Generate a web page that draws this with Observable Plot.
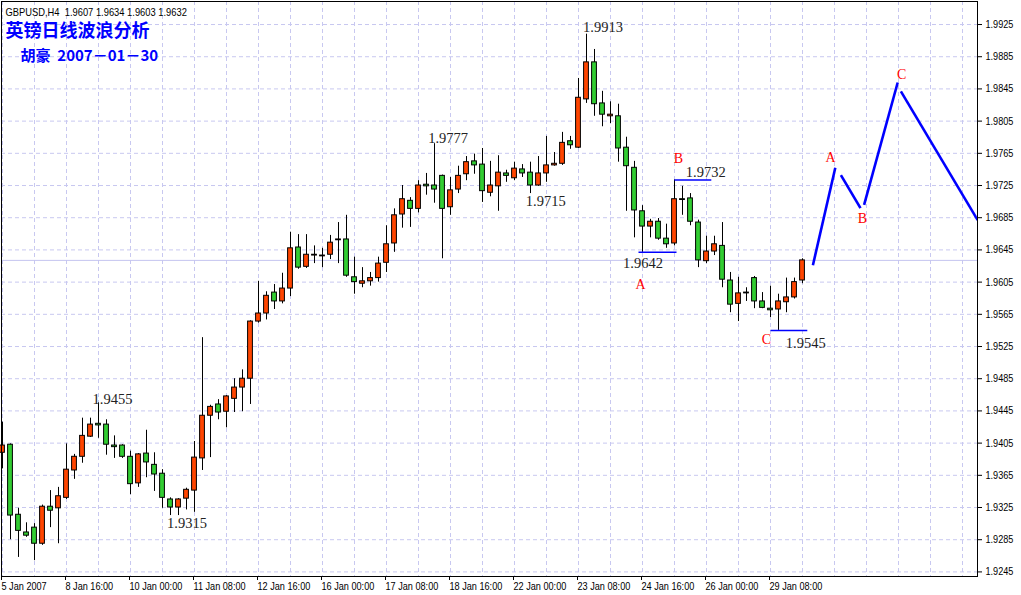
<!DOCTYPE html>
<html><head><meta charset="utf-8">
<script src="https://cdn.jsdelivr.net/npm/d3@7"></script>
<script src="https://cdn.jsdelivr.net/npm/@observablehq/plot@0.6"></script>
<style>
html,body{margin:0;padding:0;background:#fff;}
#chart{position:relative;width:1021px;height:595px;overflow:hidden;}
</style></head><body><div id="chart"></div>
<script>
// H4 bars, GBPUSD (index 0 = 5 Jan 2007 08:00)
const opens = [1.9393,1.9403,1.9316,1.9294,1.9300,1.9280,1.9326,1.9324,1.9337,1.9371,
1.9388,1.9413,1.9429,1.9428,1.9402,1.9402,1.9388,1.9355,1.9392,1.9378,
1.9367,1.9335,1.9325,1.9336,1.9346,1.9386,1.9439,1.9453,1.9444,1.9460,
1.9474,1.9485,1.9556,1.9566,1.9592,1.9581,1.9597,1.9648,1.9624,1.9638,
1.9637,1.9639,1.9657,1.9658,1.9611,1.9603,1.9606,1.9610,1.9629,1.9653,
1.9689,1.9706,1.9696,1.9726,1.9725,1.9737,1.9698,1.9720,1.9739,1.9755,
1.9751,1.9716,1.9724,1.9740,1.9734,1.9745,1.9741,1.9725,1.9740,1.9750,
1.9752,1.9780,1.9772,1.9832,1.9878,1.9827,1.9811,1.9811,1.9772,1.9747,
1.9693,1.9674,1.9680,1.9659,1.9653,1.9708,1.9709,1.9679,1.9631,1.9643,
1.9650,1.9607,1.9578,1.9592,1.9610,1.9581,1.9572,1.9571,1.9580,1.9586,
1.9607];
const highs = [1.9431,1.9404,1.9324,1.9306,1.9305,1.9328,1.9346,1.9350,1.9404,1.9391,
1.9436,1.9436,1.9455,1.9434,1.9414,1.9403,1.9395,1.9392,1.9421,1.9393,
1.9372,1.9337,1.9336,1.9349,1.9407,1.9536,1.9452,1.9459,1.9464,1.9485,
1.9496,1.9557,1.9606,1.9593,1.9602,1.9616,1.9667,1.9664,1.9664,1.9650,
1.9647,1.9663,1.9679,1.9688,1.9636,1.9623,1.9617,1.9636,1.9675,1.9696,
1.9725,1.9710,1.9731,1.9740,1.9777,1.9738,1.9735,1.9749,1.9761,1.9764,
1.9771,1.9755,1.9762,1.9744,1.9754,1.9751,1.9754,1.9761,1.9786,1.9766,
1.9791,1.9786,1.9858,1.9913,1.9894,1.9842,1.9829,1.9826,1.9785,1.9755,
1.9700,1.9683,1.9684,1.9677,1.9732,1.9724,1.9715,1.9682,1.9662,1.9662,
1.9679,1.9617,1.9611,1.9598,1.9612,1.9592,1.9600,1.9590,1.9610,1.9610,
1.9634];
const lows = [1.9373,1.9285,1.9263,1.9288,1.9259,1.9278,1.9300,1.9280,1.9335,1.9360,
1.9380,1.9412,1.9411,1.9390,1.9386,1.9386,1.9341,1.9350,1.9362,1.9345,
1.9324,1.9315,1.9315,1.9322,1.9319,1.9371,1.9387,1.9434,1.9424,1.9443,
1.9444,1.9453,1.9554,1.9558,1.9571,1.9578,1.9587,1.9621,1.9622,1.9628,
1.9623,1.9633,1.9628,1.9611,1.9590,1.9598,1.9600,1.9605,1.9617,1.9642,
1.9672,1.9673,1.9691,1.9713,1.9703,1.9634,1.9688,1.9715,1.9731,1.9739,
1.9704,1.9711,1.9693,1.9729,1.9731,1.9735,1.9715,1.9724,1.9729,1.9749,
1.9750,1.9770,1.9771,1.9827,1.9811,1.9798,1.9802,1.9754,1.9693,1.9660,
1.9642,1.9660,1.9657,1.9647,1.9650,1.9688,1.9675,1.9623,1.9628,1.9638,
1.9598,1.9567,1.9556,1.9581,1.9572,1.9572,1.9561,1.9545,1.9567,1.9584,
1.9603];
const closes = [1.9402,1.9315,1.9296,1.9290,1.9280,1.9326,1.9321,1.9339,1.9372,1.9388,
1.9414,1.9428,1.9427,1.9403,1.9400,1.9388,1.9354,1.9391,1.9381,1.9366,
1.9337,1.9325,1.9335,1.9347,1.9387,1.9439,1.9450,1.9443,1.9463,1.9474,
1.9485,1.9556,1.9566,1.9588,1.9581,1.9597,1.9647,1.9623,1.9639,1.9639,
1.9638,1.9654,1.9658,1.9613,1.9605,1.9606,1.9610,1.9628,1.9652,1.9688,
1.9708,1.9696,1.9725,1.9724,1.9720,1.9696,1.9719,1.9737,1.9754,1.9750,
1.9718,1.9725,1.9741,1.9737,1.9746,1.9740,1.9725,1.9740,1.9750,1.9752,
1.9778,1.9775,1.9834,1.9878,1.9826,1.9813,1.9813,1.9771,1.9749,1.9694,
1.9674,1.9680,1.9659,1.9652,1.9708,1.9707,1.9680,1.9632,1.9643,1.9652,
1.9608,1.9577,1.9591,1.9591,1.9581,1.9573,1.9570,1.9581,1.9586,1.9605,
1.9632];

const timeLabels = ["5 Jan 2007","8 Jan 16:00","10 Jan 00:00","11 Jan 08:00","12 Jan 16:00",
  "16 Jan 00:00","17 Jan 08:00","18 Jan 16:00","22 Jan 00:00","23 Jan 08:00",
  "24 Jan 16:00","26 Jan 00:00","29 Jan 08:00"];
const timeTickBars = [0,8,16,24,32,40,48,56,64,72,80,88,96];
const priceTicks = [1.9245,1.9285,1.9325,1.9365,1.9405,1.9445,1.9485,1.9525,1.9565,
  1.9605,1.9645,1.9685,1.9725,1.9765,1.9805,1.9845,1.9885,1.9925];

// swing-point annotations
const peakValues = [1.9455,1.9315,1.9777,1.9715,1.9913,1.9642,1.9732,1.9545];
const peakLabelBar = [13.75,23.06,55.7,67.9,75.06,80.06,87.9,100.4];
const peakLabelPrice = [1.9459,1.9305,1.9783,1.9705,1.9921,1.9628,1.9741,1.9529];

// wave letters
const waveLetters = ["A","B","C","A","B","C"];
const waveBar = [79.75,84.5,95.5,103.5,107.5,112.4];
const wavePrice = [1.9602,1.9759,1.9534,1.9760,1.9684,1.9863];

// level lines
const levelPrice = [1.9642,1.9732,1.9545];
const levelFrom = [79.5,84,96];
const levelTo = [84.25,88.6,100.6];

// projected wave path (blue)
const projBar1 = [101.3,104.8,107.7,112.3];
const projPrice1 = [1.9626,1.9738,1.9701,1.9842];
const projBar2 = [104.1,107.25,111.9,121.9];
const projPrice2 = [1.9747,1.9697,1.9853,1.9682];

const symbol = "GBPUSD,H4";
const title = "英镑日线波浪分析";
const author = "胡豪  2007－01－30";

const bars = opens.map((o, i) => ({i, o, h: highs[i], l: lows[i], c: closes[i]}));
const last = bars[bars.length - 1];
const symbolLine = `${symbol}  ${last.o.toFixed(4)} ${last.h.toFixed(4)} ${last.l.toFixed(4)} ${last.c.toFixed(4)}`;
const peaks = peakValues.map((v, k) => ({t: v.toFixed(4), x: peakLabelBar[k], y: peakLabelPrice[k]}));
const waves = waveLetters.map((t, k) => ({t, x: waveBar[k], y: wavePrice[k]}));
const levels = levelPrice.map((p, k) => ({p, a: levelFrom[k], b: levelTo[k]}));
const proj = projBar1.map((x1, k) => ({x1, y1: projPrice1[k], x2: projBar2[k], y2: projPrice2[k]}));

const uiFont = '"Liberation Sans",Arial,sans-serif';
const serifFont = '"Liberation Serif","Times New Roman",serif';
const gridStyle = {stroke: "#c8c8f0", strokeOpacity: 1, strokeDasharray: "4,3"};

const svg = Plot.plot({
  width: 1021, height: 595,
  marginLeft: 1, marginRight: 44, marginTop: 1, marginBottom: 19,
  x: {domain: [-0.125, 121.875]},
  y: {domain: [1.92393, 1.99536]},
  style: {fontFamily: uiFont, fontSize: "11px", background: "white", color: "black"},
  marks: [
    Plot.gridY(priceTicks, gridStyle),
    Plot.gridX(d3.range(0, 122, 4), gridStyle),
    Plot.ruleY([last.c], {stroke: "#c4c4f0"}),
    Plot.ruleX(bars, {x: "i", y1: "l", y2: "h", stroke: "black", strokeWidth: 1}),
    Plot.rect(bars, {x1: d => d.i - 0.3, x2: d => d.i + 0.3, y1: "o", y2: "c",
      fill: d => d.c >= d.o ? "#ff4500" : "#32cd32", stroke: "black", strokeWidth: 1}),
    Plot.link(levels, {x1: "a", x2: "b", y1: "p", y2: "p", stroke: "#0000ff", strokeWidth: 1.5}),
    Plot.link(proj, {x1: "x1", y1: "y1", x2: "x2", y2: "y2", stroke: "#0000ff", strokeWidth: 2.6, clip: "frame"}),
    Plot.text(peaks, {x: "x", y: "y", text: "t", fill: "#222", fontFamily: serifFont,
      fontSize: 14.5, letterSpacing: "0.5px"}),
    Plot.text(waves, {x: "x", y: "y", text: "t", fill: "#ff0000", fontFamily: serifFont, fontSize: 14}),
    Plot.text([symbolLine],
      {frameAnchor: "top-left", dx: 4, dy: 11, textAnchor: "start", lineAnchor: "middle", fill: "black", fontSize: 11}),
    Plot.text([title], {frameAnchor: "top-left", dx: 4, dy: 30, textAnchor: "start", lineAnchor: "middle",
      fill: "#0000ff", fontFamily: '"Noto Sans CJK SC",sans-serif', fontSize: 18, fontWeight: "bold", letterSpacing: "1.7px"}),
    Plot.text([author], {frameAnchor: "top-left", dx: 19, dy: 55, textAnchor: "start", lineAnchor: "middle",
      fill: "#0000ff", fontFamily: '"Noto Sans CJK SC",sans-serif', fontSize: 15, fontWeight: "bold"}),
    Plot.axisY(priceTicks, {anchor: "right", tickSize: 4, tickPadding: 4, tickFormat: d => d.toFixed(4), fontSize: 11}),
    Plot.axisX(timeTickBars, {anchor: "bottom", tickSize: 4, tickPadding: 2, tickFormat: d => timeLabels[timeTickBars.indexOf(d)],
      textAnchor: "start", dx: -1, fontSize: 11}),
    Plot.frame({stroke: "black"}),
    Plot.text([last.c], {y: d => d, frameAnchor: "right", dx: 7, textAnchor: "start", fill: "white",
      text: d => d.toFixed(4), fontSize: 11, ariaLabel: "bid-label"})
  ]
});
document.getElementById("chart").appendChild(svg);

// condense the UI texts (MT4 uses a narrow Tahoma-like face)
const condense = (t, f) => {
  const w = t.getComputedTextLength();
  t.setAttribute("textLength", (w * f).toFixed(1));
  t.setAttribute("lengthAdjust", "spacingAndGlyphs");
};
svg.querySelectorAll('g[aria-label$="tick label"] text').forEach(t => condense(t, 0.83));
svg.querySelectorAll("text").forEach(t => {
  if (t.textContent === symbolLine) condense(t, 0.85);
});
svg.querySelectorAll('g[aria-label="bid-label"] text').forEach(t => condense(t, 0.83));

// black box behind the current-price label
const g = svg.querySelector('g[aria-label="bid-label"]');
if (g) {
  const t = g.querySelector("text");
  const bb = t.getBBox();
  const r = document.createElementNS("http://www.w3.org/2000/svg", "rect");
  r.setAttribute("x", bb.x - 6);
  r.setAttribute("y", bb.y - 0.5);
  r.setAttribute("width", bb.width + 9);
  r.setAttribute("height", bb.height + 1);
  r.setAttribute("fill", "black");
  g.insertBefore(r, g.firstChild);
}
</script></body></html>
